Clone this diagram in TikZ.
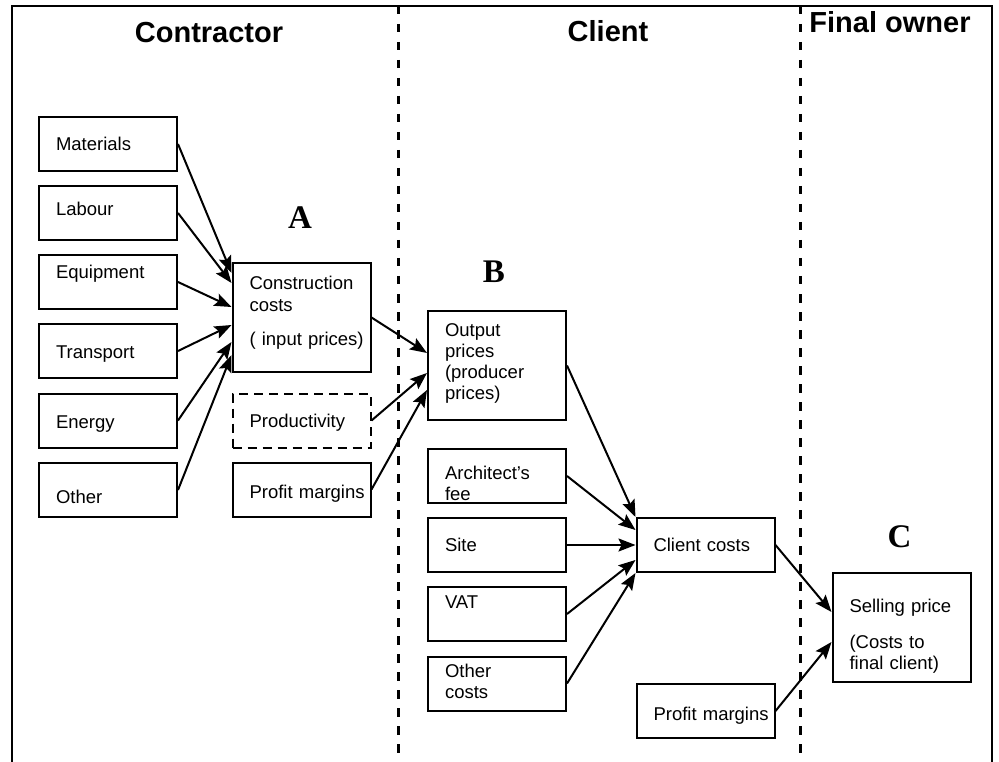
\documentclass[tikz,border=0pt]{standalone}
\usepackage{fontspec}
\setmainfont{Liberation Sans}
\newfontfamily\labfont{Liberation Serif}
\usetikzlibrary{arrows.meta}
\hyphenpenalty=10000

\tikzset{
  box/.style={draw, rectangle, line width=2pt, minimum width=138pt, minimum height=54pt,
    text width=104pt, inner xsep=17pt, inner ysep=0pt, align=left,
    font=\fontsize{18.5}{21}\selectfont},
  tallbox/.style={box, minimum height=109pt},
  dashbox/.style={box, dash pattern=on 9pt off 6pt},
  txtdown/.style={text height=#1, text depth=0pt},
  txtup/.style={text height=0pt, text depth=#1},
  flow/.style={line width=2pt, -{Stealth[length=17pt, width=13pt, inset=3pt]}},
  title/.style={font=\fontsize{29}{34}\selectfont\bfseries, anchor=base},
  letter/.style={font=\labfont\fontsize{33}{38}\selectfont\bfseries, anchor=base},
  divider/.style={line width=3pt, dash pattern=on 8.5pt off 9.5pt}
}

\begin{document}
\begin{tikzpicture}[x=1pt, y=-1pt]
        \useasboundingbox (0,0) rectangle (999,762);

        \draw[line width=2.4pt] (12,762) -- (12,6) -- (992,6) -- (992,762);
        \draw[divider] (398,6) -- (398,762);
        \draw[divider] (800,6) -- (800,762);

        \node[title] (contractor) at (209,43) {Contractor};
        \node[title] (client) at (608,42) {Client};
        \node[title] (owner) at (890,33) {Final owner};

        \node[letter] (labA) at (300,229) {A};
        \node[letter] (labB) at (494,283) {B};
        \node[letter] (labC) at (899.5,547) {C};

        \node[box, txtdown=14pt] (mat) at (108,144) {Materials};
        \node[box, txtdown=6pt] (lab) at (108,213) {Labour};
        \node[box, txtup=6pt] (equ) at (108,282) {Equipment};
        \node[box, txtdown=14pt] (tra) at (108,351) {Transport};
        \node[box, txtdown=15pt] (ene) at (108,420.5) {Energy};
        \node[box, txtdown=26pt] (oth) at (108,490) {Other};

        \node[tallbox, txtup=55pt] (cons) at (301.5,317.5) {Construction\\costs\\[14pt](~input~prices)};
        \node[dashbox, txtdown=13pt] (prod) at (301.5,420.5) {Productivity};
        \node[box, txtdown=17pt] (profA) at (301.5,489.5) {Profit~margins};

        \node[tallbox, txtup=59pt] (out) at (497,365.5) {Output\\prices\\(producer\\prices)};
        \node[box, txtdown=6pt] (arch) at (497,476) {Architect’s\\fee};
        \node[box, txtdown=12pt] (site) at (497,545) {Site};
        \node[box, txtup=12pt] (vat) at (497,614) {VAT};
        \node[box, txtup=13pt] (othc) at (497,683.5) {Other\\costs};

        \node[box, txtdown=12pt] (ccost) at (705.5,545) {Client~costs};
        \node[box, txtdown=18pt] (profC) at (705.5,711) {Profit~margins};
        \node[tallbox, txtup=31pt] (sell) at (901.5,627.5) {Selling~price\\[15pt](Costs~to\\final~client)};

        \draw[flow] (mat.east) -- ([yshift=44.5pt]cons.west);
        \draw[flow] (lab.east) -- ([yshift=34.5pt]cons.west);
        \draw[flow] (equ.east) -- ([yshift=10.5pt]cons.west);
        \draw[flow] (tra.east) -- ([yshift=-7.5pt]cons.west);
        \draw[flow] (ene.east) -- ([yshift=-24.5pt]cons.west);
        \draw[flow] (oth.east) -- ([yshift=-37.5pt]cons.west);

        \draw[flow] (cons.east) -- ([yshift=12.5pt]out.west);
        \draw[flow] (prod.east) -- ([yshift=-7.5pt]out.west);
        \draw[flow] (profA.east) -- ([yshift=-24.5pt]out.west);

        \draw[flow] (out.east) -- (ccost.north west);
        \draw[flow] (arch.east) -- ([yshift=15pt]ccost.west);
        \draw[flow] (site.east) -- (ccost.west);
        \draw[flow] (vat.east) -- ([yshift=-15pt]ccost.west);
        \draw[flow] (othc.east) -- (ccost.south west);

        \draw[flow] (ccost.east) -- ([yshift=15.5pt]sell.west);
        \draw[flow] (profC.east) -- ([yshift=-14.5pt]sell.west);
    \end{tikzpicture}
\end{document}
